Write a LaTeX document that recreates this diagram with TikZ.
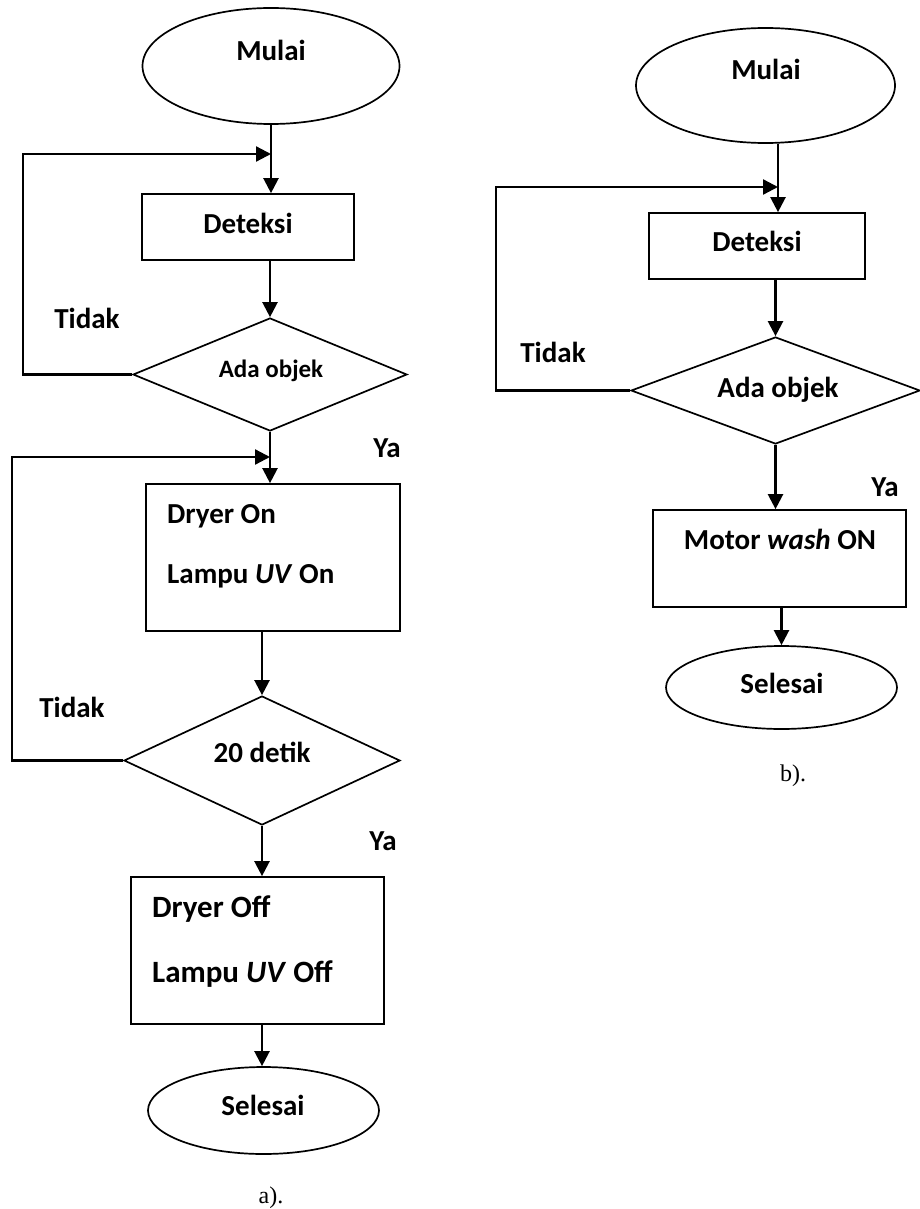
\documentclass[tikz,border=0pt]{standalone}
\usepackage{fontspec}
\setmainfont{Carlito}
\newfontfamily\capfont{Liberation Serif}
\usetikzlibrary{shapes.geometric,arrows.meta}
\tikzset{
  shp/.style={draw, line width=1.7pt, inner sep=0pt},
  ell/.style={shp, ellipse},
  box/.style={shp, rectangle},
  dia/.style={shp, diamond},
  arr/.style={line width=2.3pt, -{Triangle[length=15pt,width=15pt]}},
  txt/.style={font=\fontsize{29}{35}\selectfont\bfseries, anchor=base, inner sep=0pt},
  txtl/.style={txt, anchor=base west},
  bigl/.style={font=\fontsize{31}{37}\selectfont\bfseries, anchor=base west, inner sep=0pt},
  smalltxt/.style={font=\fontsize{25}{30}\selectfont\bfseries, anchor=base, inner sep=0pt},
  captxt/.style={font=\capfont\fontsize{24}{28}\selectfont, anchor=base, inner sep=0pt}
}
\begin{document}
\begin{tikzpicture}[x=1pt, y=-1pt]
\path[use as bounding box, fill=white] (0,0) rectangle (919,1209);

% ---------- a) ----------
\node[ell, minimum width=257pt, minimum height=116pt] (m1) at (271,66) {};
\node[box, minimum width=212pt, minimum height=66pt] (d1) at (248,227) {};
\node[dia, minimum width=274pt, minimum height=113pt] (q1) at (270,374.5) {};
\node[box, minimum width=254pt, minimum height=147pt] (b1) at (273,557.5) {};
\node[dia, minimum width=276pt, minimum height=129pt] (q2) at (262,760.5) {};
\node[box, minimum width=253pt, minimum height=147pt] (b2) at (257.5,950.5) {};
\node[ell, minimum width=231pt, minimum height=87pt] (s1) at (263.5,1110.5) {};

\coordinate (j1) at (271,154);
\coordinate (c1) at (23,154);
\coordinate (j2) at (270,457);
\coordinate (c2) at (12,457);

\node[txt] (tm1) at (271,61) {Mulai};
\node[txt] (td1) at (248,233) {Deteksi};
\node[smalltxt] (tq1) at (271,377) {Ada objek};
\node[txt] (tn1) at (87,328) {Tidak};
\node[txt] (ty1) at (387,457) {Ya};
\node[txtl] (tb1a) at (167,523) {Dryer On};
\node[txtl] (tb1b) at (167,583) {Lampu \textit{UV} On};
\node[txt] (tq2) at (262,762) {20 detik};
\node[txt] (tn2) at (72,717) {Tidak};
\node[txt] (ty2) at (383,850) {Ya};
\node[bigl] (tb2a) at (152,917) {Dryer Off};
\node[bigl] (tb2b) at (152,982) {Lampu \textit{UV} Off};
\node[txt] (ts1) at (263,1115) {Selesai};
\node[captxt] (ca) at (271,1203) {a).};

\draw[arr] (m1.south -| j1) -- (j1 |- d1.north);
\draw[arr] (q1.west) -| (c1) -- (j1);
\draw[arr] (q1.north |- d1.south) -- (q1.north);
\draw[arr] (q1.south) -- (q1.south |- b1.north);
\draw[arr] (q2.west) -| (c2) -- (j2);
\draw[arr] (q2.north |- b1.south) -- (q2.north);
\draw[arr] (q2.south) -- (q2.south |- b2.north);
\draw[arr] (q2.south |- b2.south) -- (q2.south |- s1.north);

% ---------- b) ----------
\node[ell, minimum width=259pt, minimum height=115pt] (m2) at (765.5,85.5) {};
\node[box, minimum width=216pt, minimum height=66pt] (d2) at (757,246) {};
\node[dia, minimum width=289pt, minimum height=107pt] (q3) at (775.5,390.5) {};
\node[box, minimum width=253pt, minimum height=97pt] (b3) at (779.5,558.5) {};
\node[ell, minimum width=231pt, minimum height=83pt] (s2) at (781.5,687.5) {};

\coordinate (j3) at (778,187);
\coordinate (c3) at (496,187);

\node[txt] (tm2) at (766,80) {Mulai};
\node[txt] (td2) at (757,251) {Deteksi};
\node[txt] (tn3) at (553,362) {Tidak};
\node[txt] (tq3) at (778,397) {Ada objek};
\node[txt] (ty3) at (885,496) {Ya};
\node[txt] (tb3) at (780,549) {Motor \textit{wash} ON};
\node[txt] (ts2) at (782,693) {Selesai};
\node[captxt] (cb) at (793,781) {b).};

\draw[arr] (j3 |- m2.south) -- (j3 |- d2.north);
\draw[arr] (q3.west) -| (c3) -- (j3);
\draw[arr] (q3.north |- d2.south) -- (q3.north);
\draw[arr] (q3.south) -- (q3.south |- b3.north);
\draw[arr] (b3.south -| s2.north) -- (s2.north);
\end{tikzpicture}
\end{document}
